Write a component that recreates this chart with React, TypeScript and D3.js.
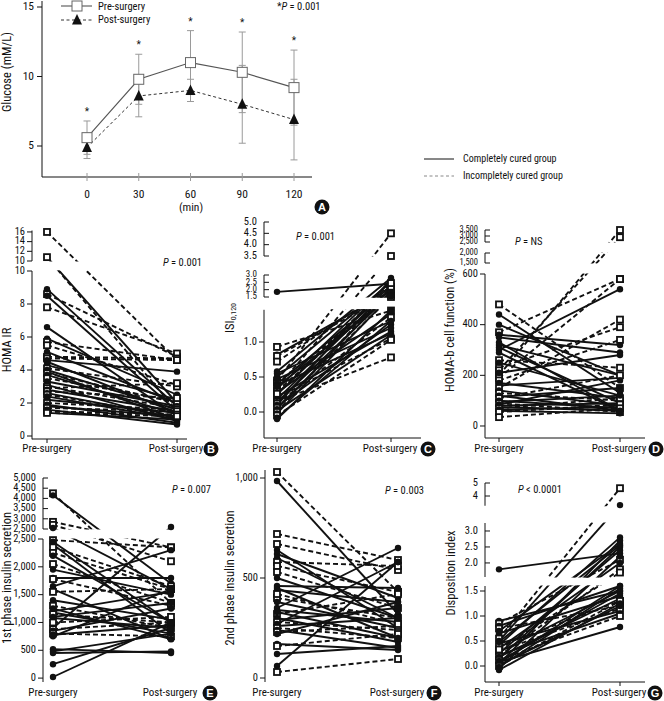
import React from 'react';
import * as d3 from 'd3';

// ---------- Panel A data ----------
const timePoints = [0, 30, 60, 90, 120];
const timeLabels = ['0', '30', '60', '90', '120'];
const glucoseTicks = [5, 10, 15];
const preMean = [5.6, 9.8, 11.0, 10.3, 9.2];
const preSD = [1.2, 1.8, 2.3, 2.9, 2.7];
const postMean = [4.9, 8.6, 9.0, 8.0, 6.9];
const postSD = [0.8, 1.5, 0.8, 2.8, 2.9];

// ---------- Panel B: HOMA IR ----------
const homaPre = [16, 10.8, 10.8, 8.9, 8.6, 8.5, 7.8, 6.6, 5.9, 5.7, 5.5, 5.1, 4.8, 4.7, 4.6, 4.5, 4.3, 4.1, 4.0, 3.9, 3.8, 3.7, 3.5, 3.3, 3.1, 3.0, 2.9, 2.8, 2.7, 2.6, 2.5, 2.4, 2.2, 2.0, 1.9, 1.8, 1.7, 1.6, 1.5, 1.4, 1.4];
const homaPost = [4.6, 2.0, 1.5, 1.8, 4.8, 1.5, 5.0, 1.2, 2.5, 4.6, 3.1, 2.0, 4.7, 4.6, 3.9, 1.4, 2.2, 3.0, 1.6, 1.0, 2.0, 1.3, 2.1, 1.8, 0.9, 1.7, 3.2, 1.5, 2.3, 1.1, 1.2, 1.0, 1.4, 1.6, 0.8, 1.2, 1.5, 0.7, 1.3, 1.0, 1.2];
const homaGroup = ['i', 'c', 'i', 'c', 'i', 'c', 'i', 'c', 'c', 'i', 'i', 'c', 'i', 'i', 'c', 'c', 'c', 'i', 'c', 'c', 'i', 'c', 'i', 'c', 'c', 'i', 'i', 'c', 'i', 'c', 'i', 'c', 'c', 'i', 'c', 'c', 'i', 'c', 'i', 'c', 'i'];

// ---------- Panel C: ISI 0,120 ----------
const isiPre = [1.85, 0.93, 0.82, 0.80, 0.72, 0.58, 0.55, 0.50, 0.45, 0.42, 0.40, 0.38, 0.35, 0.33, 0.30, 0.28, 0.25, 0.22, 0.20, 0.18, 0.15, 0.14, 0.12, 0.10, 0.08, 0.06, 0.04, 0.02, 0.00, -0.02, -0.05, -0.08, -0.10, 0.26, 0.47, 0.36];
const isiPost = [2.4, 1.45, 1.9, 1.7, 2.2, 2.8, 1.3, 2.5, 4.5, 1.6, 2.0, 1.12, 3.5, 2.6, 1.8, 1.4, 2.3, 1.15, 1.05, 2.1, 0.78, 1.7, 1.35, 2.7, 1.25, 1.5, 1.9, 1.1, 2.2, 1.6, 1.03, 1.3, 1.45, 2.45, 1.2, 1.55];
const isiGroup = ['c', 'i', 'c', 'i', 'i', 'c', 'c', 'c', 'i', 'i', 'c', 'c', 'i', 'c', 'i', 'c', 'c', 'c', 'i', 'c', 'i', 'c', 'i', 'c', 'c', 'i', 'c', 'c', 'i', 'c', 'i', 'c', 'c', 'i', 'c', 'c'];

// ---------- Panel D: HOMA-b ----------
const betaPre = [480, 440, 400, 370, 360, 350, 320, 310, 300, 290, 260, 230, 220, 200, 190, 180, 170, 160, 150, 140, 130, 120, 115, 110, 100, 95, 90, 85, 80, 75, 70, 65, 60, 55, 35, 330, 250, 210];
const betaPost = [150, 130, 200, 580, 320, 290, 200, 90, 540, 60, 230, 390, 2900, 3500, 580, 340, 110, 190, 420, 80, 100, 60, 150, 200, 70, 120, 55, 180, 90, 60, 110, 75, 50, 85, 70, 60, 120, 280];
const betaGroup = ['i', 'c', 'c', 'i', 'c', 'c', 'c', 'c', 'c', 'c', 'i', 'i', 'i', 'i', 'i', 'i', 'c', 'c', 'i', 'c', 'i', 'c', 'c', 'i', 'c', 'c', 'i', 'c', 'c', 'c', 'i', 'c', 'c', 'i', 'i', 'c', 'c', 'c'];

// ---------- Panel E: 1st phase insulin secretion ----------
const firstPre = [4250, 4150, 2850, 2700, 2550, 2480, 2450, 2400, 2350, 2250, 2200, 2050, 1800, 1780, 1650, 1600, 1550, 1400, 1300, 1200, 1180, 1150, 1100, 1080, 900, 880, 850, 800, 780, 750, 520, 480, 450, 250, 20, 1000, 1250, 1950];
const firstPost = [1350, 1700, 2350, 2100, 1600, 2350, 1000, 800, 1650, 1600, 1000, 1350, 1800, 1300, 2300, 700, 1600, 1050, 900, 1550, 800, 1000, 1350, 900, 2600, 1000, 1250, 750, 950, 1600, 450, 800, 480, 900, 1000, 1100, 700, 1500];
const firstGroup = ['i', 'c', 'i', 'i', 'c', 'i', 'c', 'c', 'i', 'i', 'c', 'i', 'c', 'i', 'c', 'c', 'i', 'c', 'i', 'c', 'c', 'i', 'c', 'c', 'c', 'i', 'c', 'i', 'c', 'c', 'c', 'c', 'c', 'c', 'c', 'i', 'c', 'c'];

// ---------- Panel F: 2nd phase insulin secretion ----------
const secondPre = [1030, 985, 720, 670, 640, 620, 600, 580, 560, 530, 460, 450, 440, 400, 380, 350, 340, 320, 300, 290, 280, 270, 260, 250, 240, 230, 220, 170, 160, 120, 60, 30, 330, 420, 500];
const secondPost = [430, 320, 590, 540, 250, 400, 300, 560, 430, 350, 450, 200, 380, 300, 250, 650, 280, 420, 180, 350, 240, 580, 300, 200, 150, 260, 380, 140, 220, 160, 580, 95, 200, 270, 300];
const secondGroup = ['i', 'c', 'i', 'i', 'c', 'c', 'c', 'i', 'i', 'i', 'c', 'c', 'c', 'i', 'c', 'c', 'c', 'i', 'c', 'c', 'i', 'c', 'c', 'i', 'c', 'i', 'c', 'c', 'i', 'c', 'c', 'i', 'c', 'i', 'c'];

// ---------- Panel G: Disposition index ----------
const dispPre = [1.8, 0.9, 0.85, 0.80, 0.75, 0.70, 0.65, 0.55, 0.50, 0.45, 0.42, 0.40, 0.35, 0.30, 0.28, 0.25, 0.22, 0.20, 0.18, 0.15, 0.12, 0.10, 0.08, 0.06, 0.04, 0.02, 0.00, -0.02, -0.05, -0.08, 0.33, 0.48];
const dispPost = [2.3, 1.5, 2.1, 1.6, 1.2, 2.6, 1.4, 4.6, 3.3, 1.1, 2.8, 1.3, 2.0, 1.15, 1.5, 2.4, 1.05, 1.8, 1.35, 2.5, 1.0, 1.45, 0.78, 1.6, 2.7, 1.2, 1.3, 1.55, 2.2, 1.25, 1.7, 2.55];
const dispGroup = ['c', 'c', 'i', 'c', 'i', 'c', 'c', 'i', 'c', 'c', 'c', 'i', 'c', 'i', 'c', 'c', 'c', 'i', 'c', 'c', 'i', 'c', 'c', 'c', 'c', 'c', 'i', 'c', 'c', 'c', 'i', 'c'];

const FONT = "'Liberation Sans Narrow', 'Arial Narrow', 'Roboto Condensed', 'Liberation Sans', Arial, sans-serif";
const INK = '#111';

type Seg = { domain: [number, number]; range: [number, number]; ticks: number[]; inward: boolean; fmt: (v: number) => string; fs?: number };
type Cfg = {
  id: string; axisX: number; xPre: number; xPost: number; xEnd: number; xAxisY: number | null;
  segs: Seg[]; yLabel: React.ReactNode; labelX: number; labelY: number;
  pText: string; pX: number; pY: number; badge: string; badgeX: number; labelsY: number;
};

const f1 = d3.format('.1f');
const fc = d3.format(',');
const fd = d3.format('d');

function Badge({ x, y, letter }: { x: number; y: number; letter: string }) {
  return (
    <g>
      <circle cx={x} cy={y} r={7.5} fill={INK} />
      <text x={x} y={y + 4} fill="#fff" fontWeight="bold" fontSize={11} textAnchor="middle" fontFamily="'Liberation Sans', Arial, sans-serif">{letter}</text>
    </g>
  );
}

function PText({ x, y, text }: { x: number; y: number; text: string }) {
  return (
    <text x={x} y={y} fontSize={10.5} fontFamily={FONT} fill={INK} dominantBaseline="middle">
      <tspan fontStyle="italic">P</tspan>{text}
    </text>
  );
}

function Panel({ cfg, pre, post, grp }: { cfg: Cfg; pre: number[]; post: number[]; grp: string[] }) {
  const scales = cfg.segs.map(s => d3.scaleLinear().domain(s.domain).range(s.range));
  const yOf = (v: number) => {
    let best = 0, bd = Infinity;
    cfg.segs.forEach((s, i) => {
      const lo = Math.min(...s.domain), hi = Math.max(...s.domain);
      const d = v < lo ? lo - v : v > hi ? v - hi : 0;
      if (d < bd) { bd = d; best = i; }
    });
    return scales[best](v);
  };
  const clipId = `clip-${cfg.id}`;
  const bottom = Math.max(...cfg.segs.map(s => Math.max(...s.range)));
  const topY = Math.min(...cfg.segs.map(s => Math.min(...s.range)));
  return (
    <g>
      <defs>
        <clipPath id={clipId}>
          {cfg.segs.map((s, i) => {
            const t = Math.min(...s.range), b = Math.max(...s.range);
            const y0 = t === topY ? t - 8 : t - 0.5;
            const y1 = b === bottom ? b + 2 : b + 0.5;
            return <rect key={i} x={cfg.axisX + 1} y={y0} width={cfg.xEnd - cfg.axisX + 6} height={y1 - y0} />;
          })}
        </clipPath>
      </defs>
      {cfg.segs.map((s, i) => {
        const sc = scales[i];
        const t = Math.min(...s.range), b = Math.max(...s.range);
        return (
          <g key={i}>
            <line x1={cfg.axisX} x2={cfg.axisX} y1={t} y2={b} stroke={INK} strokeWidth={1} />
            {s.ticks.map(tv => (
              <g key={tv}>
                <line x1={cfg.axisX} x2={s.inward ? cfg.axisX + 5 : cfg.axisX - 5} y1={sc(tv)} y2={sc(tv)} stroke={INK} strokeWidth={1} />
                <text x={cfg.axisX - 7} y={sc(tv)} fontSize={s.fs ?? 10.5} fontFamily={FONT} fill={INK} textAnchor="end" dominantBaseline="middle">{s.fmt(tv)}</text>
              </g>
            ))}
          </g>
        );
      })}
      {cfg.xAxisY !== null && (
        <g>
          <line x1={cfg.axisX} x2={cfg.xEnd} y1={cfg.xAxisY} y2={cfg.xAxisY} stroke={INK} strokeWidth={1} />
          <line x1={cfg.xPre} x2={cfg.xPre} y1={cfg.xAxisY} y2={cfg.xAxisY + 4} stroke={INK} />
          <line x1={cfg.xPost} x2={cfg.xPost} y1={cfg.xAxisY} y2={cfg.xAxisY + 4} stroke={INK} />
        </g>
      )}
      <g clipPath={`url(#${clipId})`}>
        {pre.map((p, i) => (
          <line key={i} x1={cfg.xPre} y1={yOf(p)} x2={cfg.xPost} y2={yOf(post[i])} stroke={INK}
            strokeWidth={1.9} strokeDasharray={grp[i] === 'i' ? '5,3' : undefined} />
        ))}
      </g>
      {pre.map((p, i) => {
        const pts = [[cfg.xPre, yOf(p)], [cfg.xPost, yOf(post[i])]];
        return pts.map(([x, y], k) => grp[i] === 'i'
          ? <rect key={`${i}-${k}`} x={x - 3} y={y - 3} width={6} height={6} fill="#fff" stroke={INK} strokeWidth={1.8} />
          : <circle key={`${i}-${k}`} cx={x} cy={y} r={3.2} fill={INK} />);
      })}
      <text transform={`translate(${cfg.labelX},${cfg.labelY}) rotate(-90)`} fontSize={12.5} fontFamily={FONT} fill={INK} textAnchor="middle" dominantBaseline="middle">{cfg.yLabel}</text>
      <text x={cfg.xPre} y={cfg.labelsY} fontSize={11} fontFamily={FONT} fill={INK} textAnchor="middle" dominantBaseline="middle">Pre-surgery</text>
      <text x={cfg.xPost - 1} y={cfg.labelsY} fontSize={11} fontFamily={FONT} fill={INK} textAnchor="middle" dominantBaseline="middle">Post-surgery</text>
      <PText x={cfg.pX} y={cfg.pY} text={cfg.pText} />
      <Badge x={cfg.badgeX} y={cfg.labelsY} letter={cfg.badge} />
    </g>
  );
}

const cfgB: Cfg = {
  id: 'B', axisX: 32, xPre: 47, xPost: 177, xEnd: 187, xAxisY: 439,
  segs: [
    { domain: [-0.2, 10], range: [439.3, 271], ticks: [0, 2, 4, 6, 8, 10], inward: false, fmt: fd },
    { domain: [10, 16.3], range: [261, 230.5], ticks: [10, 12, 14, 16], inward: false, fmt: fd },
  ],
  yLabel: 'HOMA IR', labelX: 8, labelY: 350, pText: ' = 0.001', pX: 163, pY: 263, badge: 'B', badgeX: 211, labelsY: 449,
};
const cfgC: Cfg = {
  id: 'C', axisX: 264, xPre: 277, xPost: 391, xEnd: 421, xAxisY: 438,
  segs: [
    { domain: [-0.37, 1.46], range: [437.9, 309.8], ticks: [0, 0.5, 1.0], inward: false, fmt: f1 },
    { domain: [1.5, 3.0], range: [297, 275], ticks: [1.5, 2.0, 2.5, 3.0], inward: true, fmt: f1, fs: 9 },
    { domain: [3.5, 5.0], range: [256, 222], ticks: [3.5, 4.0, 4.5, 5.0], inward: true, fmt: f1 },
  ],
  yLabel: <tspan>ISI<tspan fontSize={8} dy={3}>0,120</tspan></tspan>, labelX: 231, labelY: 318, pText: ' = 0.001', pX: 296, pY: 237, badge: 'C', badgeX: 428, labelsY: 449,
};
const cfgD: Cfg = {
  id: 'D', axisX: 485, xPre: 499, xPost: 620, xEnd: 645, xAxisY: 438,
  segs: [
    { domain: [-47, 600], range: [437.9, 274], ticks: [0, 200, 400, 600], inward: false, fmt: fd },
    { domain: [1500, 2000], range: [263, 253], ticks: [1500, 2000], inward: true, fmt: fc, fs: 8.5 },
    { domain: [2500, 3500], range: [242, 230], ticks: [2500, 3000, 3500], inward: true, fmt: fc, fs: 8.5 },
  ],
  yLabel: 'HOMA-b cell function (%)', labelX: 451, labelY: 330, pText: ' = NS', pX: 515, pY: 242, badge: 'D', badgeX: 656, labelsY: 449,
};
const cfgE: Cfg = {
  id: 'E', axisX: 43, xPre: 53, xPost: 171, xEnd: 185, xAxisY: null,
  segs: [
    { domain: [-70, 2500], range: [682, 539], ticks: [0, 500, 1000, 1500, 2000, 2500], inward: false, fmt: fc },
    { domain: [2500, 5000], range: [529, 478], ticks: [2500, 3000, 3500, 4000, 4500, 5000], inward: true, fmt: fc },
  ],
  yLabel: '1st phase insulin secretion', labelX: 8, labelY: 578, pText: ' = 0.007', pX: 172, pY: 490, badge: 'E', badgeX: 210, labelsY: 693,
};
const cfgF: Cfg = {
  id: 'F', axisX: 265, xPre: 277, xPost: 398, xEnd: 410, xAxisY: null,
  segs: [
    { domain: [-20, 1040], range: [682, 470], ticks: [0, 500, 1000], inward: false, fmt: fc },
  ],
  yLabel: '2nd phase insulin secretion', labelX: 231, labelY: 578, pText: ' = 0.003', pX: 385, pY: 491, badge: 'F', badgeX: 434, labelsY: 693,
};
const cfgG: Cfg = {
  id: 'G', axisX: 485, xPre: 499, xPost: 620, xEnd: 645, xAxisY: 682,
  segs: [
    { domain: [-0.32, 1.6], range: [682, 586], ticks: [0, 0.5, 1.0, 1.5], inward: false, fmt: f1 },
    { domain: [1.56, 3.25], range: [577, 523], ticks: [2.0, 2.5, 3.0], inward: true, fmt: f1 },
    { domain: [3.25, 5], range: [505.75, 483], ticks: [4, 5], inward: true, fmt: fd },
  ],
  yLabel: 'Disposition index', labelX: 452, labelY: 573, pText: ' < 0.0001', pX: 518, pY: 490, badge: 'G', badgeX: 655, labelsY: 693,
};

function PanelA() {
  const x = d3.scaleLinear().domain([0, 120]).range([87, 294]);
  const y = d3.scaleLinear().domain([5, 15]).range([146, 7]);
  const gray = '#9a9a9a';
  const preLine = d3.line<number>().x((_, i) => x(timePoints[i])).y(v => y(v))(preMean) || '';
  const postLine = d3.line<number>().x((_, i) => x(timePoints[i])).y(v => y(v))(postMean) || '';
  const tri = (cx: number, cy: number, s: number) => `M${cx},${cy - s * 0.6}L${cx + s / 2},${cy + s * 0.45}L${cx - s / 2},${cy + s * 0.45}Z`;
  const bar = (cx: number, lo: number, hi: number, key: string) => (
    <g key={key} stroke={gray} strokeWidth={1}>
      <line x1={cx} x2={cx} y1={y(lo)} y2={y(hi)} />
      <line x1={cx - 3.5} x2={cx + 3.5} y1={y(lo)} y2={y(lo)} />
      <line x1={cx - 3.5} x2={cx + 3.5} y1={y(hi)} y2={y(hi)} />
    </g>
  );
  return (
    <g>
      <line x1={42} x2={42} y1={1} y2={177} stroke={INK} />
      <line x1={42} x2={312} y1={177} y2={177} stroke={INK} />
      {glucoseTicks.map(t => (
        <g key={t}>
          <line x1={37} x2={42} y1={y(t)} y2={y(t)} stroke={INK} />
          <text x={34} y={y(t)} fontSize={11.5} fontFamily={FONT} textAnchor="end" dominantBaseline="middle" fill={INK}>{t}</text>
        </g>
      ))}
      {timePoints.map((t, i) => (
        <g key={t}>
          <line x1={x(t)} x2={x(t)} y1={173} y2={181} stroke={gray} />
          <text x={x(t)} y={195} fontSize={11.5} fontFamily={FONT} textAnchor="middle" dominantBaseline="middle" fill={INK}>{timeLabels[i]}</text>
        </g>
      ))}
      <text x={191} y={208} fontSize={11.5} fontFamily={FONT} textAnchor="middle" dominantBaseline="middle" fill={INK}>(min)</text>
      <text transform="translate(8,72) rotate(-90)" fontSize={12.5} fontFamily={FONT} textAnchor="middle" dominantBaseline="middle" fill={INK}>Glucose (mM/L)</text>
      {timePoints.map((t, i) => bar(x(t), preMean[i] - preSD[i], preMean[i] + preSD[i], `pre${i}`))}
      {timePoints.map((t, i) => bar(x(t), postMean[i] - postSD[i], postMean[i] + postSD[i], `post${i}`))}
      <path d={postLine} fill="none" stroke="#333" strokeWidth={1} strokeDasharray="3,2.5" />
      <path d={preLine} fill="none" stroke="#555" strokeWidth={1.1} />
      {postMean.map((v, i) => <path key={i} d={tri(x(timePoints[i]), y(v), 10)} fill={INK} />)}
      {preMean.map((v, i) => <rect key={i} x={x(timePoints[i]) - 5} y={y(v) - 5} width={10} height={10} fill="#fff" stroke="#666" strokeWidth={1} />)}
      {timePoints.map((t, i) => (
        <text key={t} x={x(t)} y={y(preMean[i] + preSD[i]) - 6} fontSize={10} fontFamily={FONT} textAnchor="middle" fill={INK}>*</text>
      ))}
      <line x1={61} x2={92} y1={6} y2={6} stroke="#555" strokeWidth={1.1} />
      <rect x={72} y={1} width={10} height={10} fill="#fff" stroke="#666" />
      <text x={98} y={7} fontSize={10.5} fontFamily={FONT} dominantBaseline="middle" fill={INK}>Pre-surgery</text>
      <line x1={61} x2={92} y1={20} y2={20} stroke="#333" strokeDasharray="3,2.5" />
      <path d={tri(77, 20, 10)} fill={INK} />
      <text x={98} y={20} fontSize={10.5} fontFamily={FONT} dominantBaseline="middle" fill={INK}>Post-surgery</text>
      <text x={277} y={7} fontSize={10.5} fontFamily={FONT} dominantBaseline="middle" fill={INK}>*<tspan fontStyle="italic">P</tspan> = 0.001</text>
      <Badge x={322} y={207} letter="A" />
      <line x1={424} x2={454} y1={159} y2={159} stroke={INK} strokeWidth={1} />
      <text x={463} y={159} fontSize={10} fontFamily={FONT} dominantBaseline="middle" fill={INK}>Completely cured group</text>
      <line x1={424} x2={454} y1={176} y2={176} stroke="#888" strokeWidth={1} strokeDasharray="3,2.5" />
      <text x={463} y={176} fontSize={10} fontFamily={FONT} dominantBaseline="middle" fill={INK}>Incompletely cured group</text>
    </g>
  );
}

export default function App() {
  return (
    <svg width={664} height={701} viewBox="0 0 664 701" style={{ position: 'absolute', left: 0, top: 0, background: '#fff' }}>
      <rect x={0} y={0} width={664} height={701} fill="#fff" />
      <PanelA />
      <Panel cfg={cfgB} pre={homaPre} post={homaPost} grp={homaGroup} />
      <Panel cfg={cfgC} pre={isiPre} post={isiPost} grp={isiGroup} />
      <Panel cfg={cfgD} pre={betaPre} post={betaPost} grp={betaGroup} />
      <Panel cfg={cfgE} pre={firstPre} post={firstPost} grp={firstGroup} />
      <Panel cfg={cfgF} pre={secondPre} post={secondPost} grp={secondGroup} />
      <Panel cfg={cfgG} pre={dispPre} post={dispPost} grp={dispGroup} />
    </svg>
  );
}
